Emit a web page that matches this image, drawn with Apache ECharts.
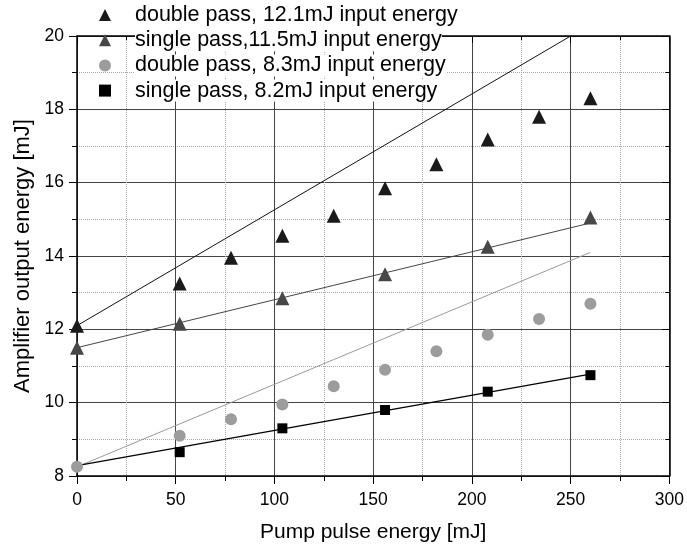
<!DOCTYPE html>
<html>
<head>
<meta charset="utf-8">
<script src="https://cdn.jsdelivr.net/npm/echarts@6/dist/echarts.min.js"></script>
<style>
  html, body { margin: 0; padding: 0; background: #fff; }
  #chart { width: 687px; height: 548px; }
</style>
</head>
<body>
<div id="chart"></div>
<script>
// measured points
var dp12x = [0, 52, 78, 104, 130, 156, 182, 208, 234, 260];
var dp12y = [12.1, 13.25, 13.95, 14.55, 15.1, 15.85, 16.5, 17.18, 17.8, 18.3];
var sp11x = [0, 52, 104, 156, 208, 260];
var sp11y = [11.5, 12.15, 12.85, 13.5, 14.25, 15.05];
var dp8x = [0, 52, 78, 104, 130, 156, 182, 208, 234, 260];
var dp8y = [8.25, 9.1, 9.55, 9.95, 10.45, 10.9, 11.4, 11.85, 12.28, 12.7];
var sp8x = [52, 104, 156, 208, 260];
var sp8y = [8.65, 9.3, 9.8, 10.3, 10.75];

// model lines (start, end)
var fitDp12 = [[0, 12.1], [250, 20]];
var fitSp11 = [[0, 11.5], [260, 14.9]];
var fitDp8 = [[0, 8.25], [260, 14.1]];
var fitSp8 = [[0, 8.28], [260, 10.78]];

var names = [
  'double pass, 12.1mJ input energy',
  'single pass,11.5mJ input energy',
  'double pass, 8.3mJ input energy',
  'single pass, 8.2mJ input energy'
];

function pairs(xs, ys) {
  return xs.map(function (x, i) { return [x, ys[i]]; });
}

var myChart = echarts.init(document.getElementById('chart'));
var ff = 'Liberation Sans, Arial, sans-serif';

var option = {
  animation: false,
  textStyle: { fontFamily: ff },
  grid: { left: 77, right: 15, top: 36, bottom: 72 },
  legend: {
    orient: 'vertical',
    left: 99,
    top: 4,
    padding: 0,
    itemGap: 3.2,
    itemWidth: 12,
    itemHeight: 12,
    z: 20,
    data: names,
    formatter: function (n) { return '{gap|}{t|' + n + '}'; },
    textStyle: {
      fontFamily: ff,
      fontSize: 21.5,
      color: '#000',
      lineHeight: 21,
      rich: {
        gap: { width: 19 },
        t: { fontFamily: ff, fontSize: 21.5, lineHeight: 21, color: '#000', backgroundColor: '#fff' }
      }
    }
  },
  xAxis: [{
    type: 'value',
    min: 0, max: 300, interval: 50,
    name: 'Pump pulse energy [mJ]',
    nameLocation: 'middle',
    nameGap: 46,
    nameTextStyle: { fontFamily: ff, fontSize: 21, color: '#000' },
    axisLine: { onZero: false, lineStyle: { color: '#000', width: 1.5 } },
    axisTick: { length: 8, lineStyle: { color: '#000' } },
    minorTick: { show: true, splitNumber: 2, length: 5, lineStyle: { color: '#000' } },
    axisLabel: { margin: 15, fontSize: 17.5, color: '#000', fontFamily: ff },
    splitLine: { show: true, lineStyle: { color: '#444', width: 1 } },
    minorSplitLine: { show: true, lineStyle: { color: '#aaa', type: 'dotted' } }
  }, {
    type: 'value', position: 'top',
    min: 0, max: 300, interval: 50,
    axisLine: { onZero: false, lineStyle: { color: '#000', width: 1.5 } },
    axisTick: { inside: true, length: 7, lineStyle: { color: '#000' } },
    minorTick: { show: true, splitNumber: 2, length: 4, lineStyle: { color: '#000' } },
    axisLabel: { show: false },
    splitLine: { show: false }
  }],
  yAxis: [{
    type: 'value',
    min: 8, max: 20, interval: 2,
    name: 'Amplifier output energy [mJ]',
    nameLocation: 'middle',
    nameGap: 41,
    nameTextStyle: { fontFamily: ff, fontSize: 22, color: '#000' },
    axisLine: { onZero: false, lineStyle: { color: '#000', width: 1.5 } },
    axisTick: { length: 8, lineStyle: { color: '#000' } },
    minorTick: { show: true, splitNumber: 2, length: 5, lineStyle: { color: '#000' } },
    axisLabel: { margin: 13, fontSize: 17.5, color: '#000', fontFamily: ff },
    splitLine: { show: true, lineStyle: { color: '#444', width: 1 } },
    minorSplitLine: { show: true, lineStyle: { color: '#aaa', type: 'dotted' } }
  }, {
    type: 'value', position: 'right',
    min: 8, max: 20, interval: 2,
    axisLine: { onZero: false, lineStyle: { color: '#000', width: 1.5 } },
    axisTick: { inside: true, length: 7, lineStyle: { color: '#000' } },
    minorTick: { show: true, splitNumber: 2, length: 4, lineStyle: { color: '#000' } },
    axisLabel: { show: false },
    splitLine: { show: false }
  }],
  series: [
    { type: 'line', data: fitDp12, showSymbol: false, silent: true, z: 3,
      lineStyle: { color: '#111', width: 1 } },
    { type: 'line', data: fitSp11, showSymbol: false, silent: true, z: 3,
      lineStyle: { color: '#444', width: 1 } },
    { type: 'line', data: fitDp8, showSymbol: false, silent: true, z: 3,
      lineStyle: { color: '#999', width: 1 } },
    { type: 'line', data: fitSp8, showSymbol: false, silent: true, z: 3,
      lineStyle: { color: '#000', width: 1.3 } },
    { name: names[0], type: 'scatter', symbol: 'triangle', symbolSize: 14, z: 5,
      itemStyle: { color: '#1a1a1a', opacity: 1 }, data: pairs(dp12x, dp12y) },
    { name: names[1], type: 'scatter', symbol: 'triangle', symbolSize: 14, z: 5,
      itemStyle: { color: '#474747', opacity: 1 }, data: pairs(sp11x, sp11y) },
    { name: names[2], type: 'scatter', symbol: 'circle', symbolSize: 12, z: 5,
      itemStyle: { color: '#9c9c9c', opacity: 1 }, data: pairs(dp8x, dp8y) },
    { name: names[3], type: 'scatter', symbol: 'rect', symbolSize: 10, z: 5,
      itemStyle: { color: '#000', opacity: 1 }, data: pairs(sp8x, sp8y) }
  ]
};
myChart.setOption(option);
</script>
</body>
</html>
